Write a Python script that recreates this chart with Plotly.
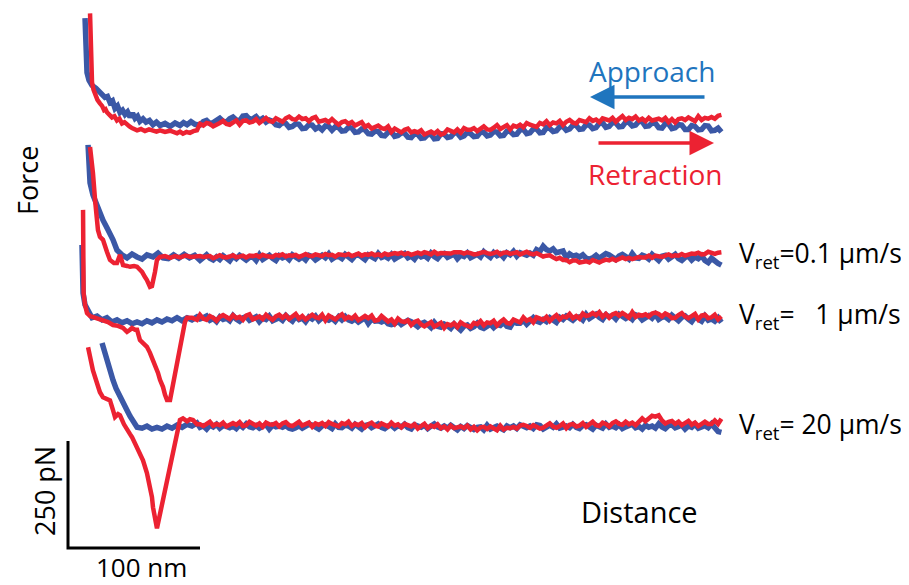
import plotly.graph_objects as go

# ---------------- data (distance in nm, force in pN) ----------------
TAIL_NM = [100, 102.5, 105, 107.5, 110, 112.5, 115, 117.5, 120, 122.5, 125, 127.5, 130, 132.5,
           135, 137.5, 140, 142.5, 145, 147.5, 150, 152.5, 155, 157.5, 160, 162.5, 165, 167.5,
           170, 172.5, 175, 177.5, 180, 182.5, 185, 187.5, 190, 192.5, 195, 197.5, 200, 202.5,
           205, 207.5, 210, 212.5, 215, 217.5, 220, 222.5, 225, 227.5, 230, 232.5, 235, 237.5,
           240, 242.5, 245, 247.5, 250, 252.5, 255, 257.5, 260, 262.5, 265, 267.5, 270, 272.5,
           275, 277.5, 280, 282.5, 285, 287.5, 290, 292.5, 295, 297.5, 300, 302.5, 305, 307.5,
           310, 312.5, 315, 317.5, 320, 322.5, 325, 327.5, 330, 332.5, 335, 337.5, 340, 342.5,
           345, 347.5, 350, 352.5, 355, 357.5, 360, 362.5, 365, 367.5, 370, 372.5, 375, 377.5,
           380, 382.5, 385, 387.5, 390, 392.5, 395, 397.5, 400, 402.5, 405, 407.5, 410, 412.5,
           415, 417.5, 420, 422.5, 425, 427.5, 430, 432.5, 435, 437.5, 440, 442.5, 445, 447.5,
           450, 452.5, 455, 457.5, 460, 462.5, 465, 467.5, 470, 472.5, 475, 477.5, 480, 482.5,
           485, 487.5, 490, 492.5, 495]

# curve 1 (top)
APP1_HEAD_NM = [12.9, 13.6, 14.4, 15.9, 18.2, 21.2, 24.2, 26.1, 28.0, 29.9, 31.8, 33.7, 35.6, 37.5,
                39.4, 41.3, 43.2, 45.1, 47.0, 48.9, 50.8, 52.7, 54.5, 56.8, 59.1, 61.7, 64.4, 67.0,
                69.7, 73.5, 77.3, 81.1, 84.8, 87.5, 90.2, 93.2, 96.2]
APP1_HEAD_PN = [255, 203, 128, 110, 98, 91, 82, 80, 70, 72, 58, 62, 44, 50, 35, 40, 30, 36, 24, 33,
                21, 26, 14, 20, 12, 16, 6, 12, 4, 9, 2, 10, 4, 11, 6, 13, 7]
APP1_TAIL_PN = [5, 13, 16, 9, 11, 18, 21, 14, 12, 20, 24, 17, 15, 26, 27, 19, 20, 25, 16, 21,
                12, 17, 14, 6, 4, 11, 9, 0, 2, 8, 7, -3, -2, 6, 5, -4, 1, -6, 3, 2,
                -7, 1, -1, -9, -8, 0, -2, -12, -11, -4, -6, -15, -16, -9, -10, -19, -20, -12, -10, -21,
                -19, -13, -14, -23, -24, -15, -17, -26, -25, -17, -16, -27, -26, -15, -16, -24, -22,
                -13, -14, -23, -20, -12, -15, -22, -21, -11, -12, -20, -18, -10, -11, -20, -19, -9,
                -10, -17, -16, -6, -5, -15, -13, -4, -4, -13, -12, -1, -3, -10, -8, 1, 2, -7, -4, 5,
                4, -5, -4, 6, 5, -3, -1, 9, 10, 0, 2, 11, 10, 1, 2, 12, 11, 3, 5, 14, 13, 2, 3, 10,
                9, -1, -2, 8, 8, -3, -1, 6, 5, -5, -5, 4, 2, -6, -5, 4, 3, -8, -7, -2, -11]
RET1_HEAD_NM = [16.7, 17.4, 18.2, 19.3, 20.5, 22.3, 24.2, 25.8, 27.3, 28.4, 29.5, 31.4, 33.3, 35.2,
                37.1, 39.0, 40.9, 42.8, 44.7, 46.6, 48.5, 50.4, 52.3, 55.3, 58.3, 61.4, 64.4, 67.0,
                69.7, 73.5, 77.3, 80.0, 82.6, 84.8, 87.1, 89.8, 92.4, 95.0, 97.7]
RET1_HEAD_PN = [266, 203, 105, 88, 75, 64, 56, 50, 40, 42, 35, 30, 23, 26, 16, 20, 9, 12, 5, 2, -2,
                -5, -7, -4, -9, -5, -8, -10, -7, -11, -8, -12, -14, -10, -15, -11, -13, -9, -7]
RET1_TAIL_PN = [8, 4, 10, 8, 2, 5, 10, 15, 8, 6, 10, 16, 6, 15, 16, 11, 13, 19, 10, 17,
                22, 15, 13, 21, 18, 13, 21, 25, 19, 18, 25, 19, 21, 14, 21, 24, 13, 16, 17, 12,
                19, 12, 6, 12, 14, 8, 12, 4, 7, 12, 1, 5, -3, 2, 4, -2, -4, 2, -11, -3,
                -7, -12, -6, -3, -12, -9, -12, -7, -17, -13, -10, -15, -9, -17, -14, -5, -9, -12, -5,
                -13, -2, -6, -6, -2, -9, -2, 2, -5, -6, -1, 5, -4, 0, 5, -5, 4, 1, 6, 0, 10,
                6, 4, 1, 10, 7, 14, 5, 11, 9, 15, 5, 13, 17, 11, 9, 17, 14, 12, 21, 15,
                18, 12, 21, 19, 16, 22, 13, 20, 26, 17, 22, 19, 25, 16, 20, 14, 22, 16, 17, 20,
                16, 22, 12, 19, 11, 19, 21, 17, 23, 19, 14, 26, 17, 22, 20, 24, 20, 27, 29]

# curve 2 (Vret = 0.1 um/s)
APP2_HEAD_NM = [15.2, 15.9, 16.7, 18.9, 22.0, 24.2, 26.5, 29.5, 31.8, 34.1, 37.1, 39.4, 40.9, 44.7,
                48.5, 52.3, 56.1, 59.8, 64.4, 68.2, 72.0, 76.0, 80.0, 84.0, 88.0, 92.0, 96.0]
APP2_HEAD_PN = [262, 215, 173, 145, 117, 103, 86, 68, 56, 40, 16, 7, 5, -2, 7, 0, -5, 5, 0, 9, -2,
                -4, 5, -3, 6, -2, 4]
APP2_TAIL_PN = [-8, -1, 5, -3, -7, 0, -6, 3, -2, -9, 2, -4, 4, -3, -7, -1, 0, -8, 5, -6,
                -1, 4, -3, -8, 3, -2, 1, -6, 5, -1, -5, 0, -7, 4, 1, -7, -1, 4, -2, 7,
                -5, 0, 1, -4, 6, -2, -6, 3, 5, 0, -6, 5, 1, -4, 8, -1, 2, -3, 6, -5,
                0, 4, 8, -2, 2, -5, 6, 0, 3, -3, 9, 1, -4, 5, 8, -1, 3, 7, -4, 4,
                1, 9, -2, 3, 6, 0, 12, 5, -1, 10, 3, 7, -1, 10, 5, 13, 2, 10, 8, 4,
                9, 4, 17, 13, 25, 17, 14, 19, 10, 12, 14, -2, 7, 2, 4, 0, 5, -3, -5, -2,
                4, -3, 1, 8, 5, -1, -6, 2, 6, 1, -5, 8, -2, -3, 4, 1, -5, 6, -1, -8,
                2, 4, -5, -1, 6, -4, -8, -1, 2, -7, 0, -4, 3, -8, -13, -3, -10, -15, -19]
RET2_HEAD_NM = [16.7, 18.2, 18.9, 20.5, 22.7, 24.2, 26.5, 29.5, 31.8, 34.8, 37.1, 39.4, 41.7, 44.7,
                47.0, 50.0, 52.3, 54.5, 56.1, 58.3, 59.8, 62.1, 63.6, 65.9, 67.4, 69.7, 73.5, 77.3,
                81.0, 85.0, 89.0, 93.0, 97.0]
RET2_HEAD_PN = [257, 226, 196, 133, 63, 47, 40, 12, -7, -14, -14, 5, -19, -21, -23, -21, -23, -30,
                -35, -47, -54, -70, -68, -35, -7, 0, 2, -2, 2, -1, 3, 0, 2]
RET2_TAIL_PN = [2, 0, 0, 2, -3, 1, 4, 0, -1, 1, 4, -1, 1, 3, -1, 3, 2, 4, 0, 5,
                2, 1, 0, 5, 3, 6, 1, 4, 3, 5, 0, 3, 7, 3, 2, 6, 4, 2, 7, 4,
                5, 1, 6, 4, 4, 7, 2, 5, 8, 3, 6, 5, 8, 4, 6, 3, 8, 5, 7, 9,
                7, 10, 6, 9, 5, 8, 10, 7, 11, 9, 6, 12, 7, 9, 9, 10, 8, 11, 12, 11,
                8, 11, 9, 6, 7, 10, 12, 9, 7, 9, 12, 6, 10, 11, 7, 9, 11, 6, 9, 12,
                8, 6, 9, 5, 1, 3, 4, -1, -5, -2, -7, -7, -12, -8, -8, -13, -12, -10, -13, -7,
                -10, -13, -9, -6, -8, -4, -8, -5, -1, -5, -2, -5, -2, 0, -1, -1, 3, -2, 3, 1,
                0, 3, 6, 2, 4, 3, 7, 3, 6, 8, 7, 10, 6, 7, 12, 9, 7, 10, 11]

# curve 3 (Vret = 1 um/s)
APP3_HEAD_NM = [10.6, 10.6, 11.4, 12.9, 15.2, 18.2, 22.0, 25.8, 29.5, 33.3, 37.1, 40.9, 44.7, 48.5,
                52.3, 56.1, 59.8, 63.6, 67.4, 71.2, 75.0, 78.8, 82.6, 86.4, 90.2, 93.9, 97.7]
APP3_HEAD_PN = [175, 117, 63, 35, 19, 5, 9, 0, 5, -5, 0, -7, -2, -9, -5, -9, -2, -7, 0, -5, 2, -2,
                5, -2, 5, 0, 7]
APP3_TAIL_PN = [2, 5, 9, -1, 3, -4, 7, 1, 4, -2, 10, 2, -3, 5, 8, -1, 3, 7, -4, 4,
                1, 9, -2, 2, 5, -1, 10, 3, -3, 8, 1, 4, -4, 7, 2, 9, -2, 5, 3, -1,
                4, -3, 7, 0, 8, 0, -3, 2, -5, -1, 5, -8, 2, -3, -2, -5, -1, -9, -11, -9,
                -3, -11, -7, -1, -4, -11, -16, -9, -6, -11, -18, -6, -15, -17, -10, -14, -20, -10,
                -17, -24, -15, -12, -20, -16, -8, -17, -20, -13, -10, -18, -11, -13, -6, -15, -17,
                -4, -8, -8, -1, -10, -2, 5, -3, -6, 1, -4, 5, 1, -6, 6, 1, 9, 3, -1, 6, 7, 0, 13,
                3, 8, 13, 6, 1, 12, 7, 10, 2, 13, 7, 3, 8, 1, 12, 9, 0, 6, 10, 4, 13, 1,
                6, 7, 1, 11, 3, -2, 6, 9, 2, -4, 7, 2, -3, 9, -1, 2, -3, 5, -6]
RET3_HEAD_NM = [11.4, 11.4, 11.6, 11.8, 12.9, 14.4, 16.7, 18.9, 22.7, 26.5, 30.3, 34.1, 37.9, 41.7,
                44.7, 47.0, 48.5, 50.8, 52.3, 54.5, 56.8, 59.8, 62.1, 64.4, 65.9, 68.2, 69.7, 72.0,
                73.5, 75.0, 77.3, 79.5, 82.6, 85.6, 88.6, 90.2, 93.9, 97.7]
RET3_HEAD_PN = [257, 187, 117, 63, 35, 16, 9, 7, 2, 0, -5, -12, -14, -19, -28, -23, -19, -23, -23,
                -47, -54, -63, -77, -93, -107, -124, -140, -157, -175, -187, -187, -152, -110, -58,
                -5, 5, 5, 0]
RET3_TAIL_PN = [12, 3, 0, 9, 5, -2, 7, 11, 5, 2, 11, 4, 7, 0, 10, 13, 1, 6, 8, 2,
                12, 5, 0, 8, 12, 5, 11, 2, 7, 14, 3, 9, 1, 8, 12, 6, 4, 12, -1, 10,
                6, 1, 8, 13, 2, 7, 3, 10, -1, 5, 9, 4, 10, -2, 0, 9, 2, -4, 1, -9,
                3, -3, -5, -1, -12, -5, -2, -11, -15, -10, -5, -16, -12, -7, -19, -10, -13, -8,
                -17, -6, -11, -14, -17, -7, -10, -3, -13, -6, -8, -2, -13, -5, 1, -7, -9, 1, -2,
                -6, 6, -2, 2, -6, 6, 3, 0, 7, -3, 5, 11, 1, 8, 6, 14, 4, 9, 3, 15, 9, 11, 16,
                11, 18, 7, 14, 5, 13, 16, 10, 16, 11, 5, 18, 7, 12, 10, 13, 8, 15, 17, 14,
                8, 15, 11, 4, 5, 11, 16, 8, 4, 9, 14, 1, 10, 12, 4, 6, 12, 1, 8]

# curve 4 (Vret = 20 um/s)
APP4_HEAD_NM = [25.8, 27.3, 29.5, 31.8, 34.1, 36.4, 39.4, 42.4, 44.7, 47.0, 48.5, 50.8, 52.3, 56.1,
                59.8, 63.6, 67.4, 71.2, 75.0, 78.8, 82.6, 86.4, 90.2, 93.9, 97.7]
APP4_HEAD_PN = [192, 175, 159, 133, 105, 86, 65, 47, 35, 21, 12, 0, -5, -7, -2, -9, -5, -9, -2, -7,
                0, -5, 2, -2, 5]
APP4_TAIL_PN = [-5, -2, -9, 0, -4, 2, -7, -1, -3, -6, -2, -8, 1, -5, 3, -4, -6, -1, -7, -3,
                2, -9, 0, -4, -2, -5, -1, -7, -9, -6, -1, -7, -4, 2, 0, -5, -9, -2, 1, -3,
                -8, 3, -5, -6, 0, -2, -7, 2, -4, -9, -1, 1, -6, -3, 3, -5, -8, -2, 0, -7,
                -1, -4, 2, -6, -9, 1, -3, -5, 0, -8, -2, 3, -4, -7, -2, -7, 0, -5, -11, -3,
                -8, -1, -7, -10, -5, -4, -11, 0, -9, -6, -2, -7, -11, -2, -6, -2, -8, 1, -4, -6,
                -2, -8, 1, -1, -9, -4, 0, -5, 3, -7, -3, -2, -6, 2, -5, -8, -1, 1, -4, -9,
                0, -3, -7, 3, -5, -2, -6, 1, -8, -4, -1, 2, -6, -3, -9, 0, -5, -2, -7, 3,
                -4, -8, -1, 1, -6, -3, 0, -9, -2, -5, 2, -7, -4, -1, -6, 3, -6, -15, -17]
RET4_HEAD_NM = [15.2, 16.7, 18.9, 22.0, 24.2, 26.5, 29.5, 31.8, 34.1, 35.6, 37.9, 39.4, 42.4, 44.7,
                47.0, 48.5, 51.5, 54.5, 56.8, 59.8, 62.1, 63.6, 64.4, 65.9, 67.4, 70.5, 72.7, 75.0,
                77.3, 79.5, 81.8, 83.3, 84.8, 87.1, 90.2, 92.4, 94.7, 97.7]
RET4_HEAD_PN = [182, 159, 128, 98, 77, 65, 61, 58, 35, 19, 26, 23, 2, -12, -21, -28, -47, -65, -82,
                -112, -145, -168, -192, -217, -241, -196, -164, -131, -97, -65, -32, -10, 12, 16, 9,
                14, 12, 2]
RET4_TAIL_PN = [2, -2, 4, 8, -1, 3, 0, 6, -3, 2, 5, 1, 7, -2, 0, 8, 3, -1, 4, -4,
                6, 2, 1, 5, -3, 4, 7, 0, -2, 3, 8, -1, 2, 6, -4, 4, 1, 5, -2, 7,
                3, 0, -3, 5, 2, 8, -2, 3, 0, 5, -5, 2, 6, -1, -3, 4, 0, -3, 6, -1,
                2, -5, 3, 0, -3, 2, -8, -2, 3, -7, -1, -4, 2, -7, -3, -10, -1, -7, -5, -3,
                -7, -1, -10, -4, -12, -5, -4, -9, -3, -7, -12, -1, -10, -6, -7, -4, -8, -1, 1, -2,
                -6, 0, -3, -8, -6, -1, 4, -3, -6, -2, 4, -7, 1, 3, -3, -1, 5, -4, 2, 8,
                0, -2, 6, 3, -3, 5, 9, 3, 1, 8, 2, 6, 0, 10, 16, 9, 15, 22, 20, 23,
                11, 4, 8, 10, 3, 8, 0, 4, 10, 1, 6, -2, 4, 8, 3, 3, 11, 3, 15]

# vertical stacking of the four curves (pN)
CURVE_OFFSETS = [983, 680, 533, 287]
SCALE_X = [0, 0, 100]      # nm
SCALE_Y = [250, 0, 0]      # pN
LABELS = ["V<sub>ret</sub>=0.1 µm/s", "V<sub>ret</sub>=   1 µm/s", "V<sub>ret</sub>= 20 µm/s"]

# ---------------- figure ----------------
PAGE_OFF = 8                 # default body margin of the html page
W, H = 909 - PAGE_OFF, 585 - PAGE_OFF
RED = "#ec2232"
BLUE = "#3b58a6"
ABLUE = "#1f75be"
FONT = "Open Sans"

approach = [(APP1_HEAD_NM, APP1_HEAD_PN, APP1_TAIL_PN), (APP2_HEAD_NM, APP2_HEAD_PN, APP2_TAIL_PN),
            (APP3_HEAD_NM, APP3_HEAD_PN, APP3_TAIL_PN), (APP4_HEAD_NM, APP4_HEAD_PN, APP4_TAIL_PN)]
retract = [(RET1_HEAD_NM, RET1_HEAD_PN, RET1_TAIL_PN), (RET2_HEAD_NM, RET2_HEAD_PN, RET2_TAIL_PN),
           (RET3_HEAD_NM, RET3_HEAD_PN, RET3_TAIL_PN), (RET4_HEAD_NM, RET4_HEAD_PN, RET4_TAIL_PN)]

fig = go.Figure()
for i in range(4):
    off = CURVE_OFFSETS[i]
    hx, hy, ty = approach[i]
    fig.add_trace(go.Scatter(x=hx + TAIL_NM, y=[v + off for v in hy + ty], mode="lines",
                             line=dict(color=BLUE, width=5.5), showlegend=False,
                             hoverinfo="skip"))
    hx, hy, ty = retract[i]
    fig.add_trace(go.Scatter(x=hx + TAIL_NM, y=[v + off for v in hy + ty], mode="lines",
                             line=dict(color=RED, width=4.5), showlegend=False,
                             hoverinfo="skip"))

fig.add_trace(go.Scatter(x=SCALE_X, y=SCALE_Y, mode="lines", line=dict(color="black", width=3),
                         showlegend=False, hoverinfo="skip"))

# pixel -> data mapping used for layout ranges (132 px per 100 nm, 107 px per 250 pN)
PX_PER_NM = 1.32
PN_PER_PX = 250 / 107
X0_PX, Y0_PX = 68, 548       # scale-bar corner in page pixels
xr = [(PAGE_OFF - X0_PX) / PX_PER_NM, (909 - X0_PX) / PX_PER_NM]
yr = [(Y0_PX - 585) * PN_PER_PX, (Y0_PX - PAGE_OFF) * PN_PER_PX]


def px(x, y):
    return (x - PAGE_OFF) / W, 1 - (y - PAGE_OFF) / H


ann = []


def text(t, x, y, size, color="black", angle=0, xanchor="center"):
    fx, fy = px(x, y)
    ann.append(dict(text=t, x=fx, y=fy, xref="paper", yref="paper", showarrow=False,
                    font=dict(family=FONT, size=size, color=color), textangle=angle,
                    xanchor=xanchor, yanchor="middle"))


text("Force", 27, 181, 27, angle=-90)
text("250 pN", 44, 491, 27, angle=-90)
text("100 nm", 141, 567, 26)
text("Distance", 639, 511, 29)
text("Approach", 652, 71, 28, color=ABLUE)
text("Retraction", 655, 174, 28, color=RED)
for lab, yy in zip(LABELS, [255, 315, 425]):
    text(lab, 737, yy, 26.5, xanchor="left")


def arrow(x_tail, x_head, y, color):
    fx, fy = px(x_head, y)
    ann.append(dict(x=fx, y=fy, ax=x_tail - x_head, ay=0, xref="paper", yref="paper",
                    axref="pixel", ayref="pixel", text="", showarrow=True, arrowhead=2,
                    arrowsize=1.4, arrowwidth=3.5, arrowcolor=color))


arrow(706, 590, 97, ABLUE)
arrow(597, 714, 143, RED)

fig.update_layout(
    width=W, height=H, margin=dict(l=0, r=0, t=0, b=0),
    paper_bgcolor="white", plot_bgcolor="white",
    xaxis=dict(range=xr, visible=False, fixedrange=True),
    yaxis=dict(range=yr, visible=False, fixedrange=True),
    annotations=ann,
)
fig.write_html("out.html")
